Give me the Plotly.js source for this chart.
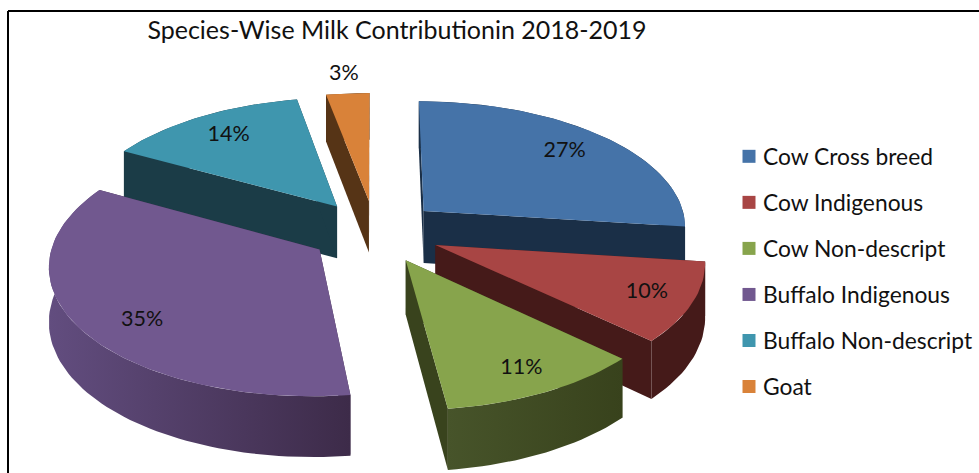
<!DOCTYPE html>
<html>
<head>
<meta charset="utf-8">
<script src="https://cdn.plot.ly/plotly-3.0.1.min.js"></script>
<style>html,body{margin:0;padding:0;background:#fff}#chart{width:979px;height:473px}text{font-variant-ligatures:none}</style>
</head>
<body>
<div id="chart"></div>
<script>
// Share of milk production by species, percent
const categories = ['Cow Cross breed', 'Cow Indigenous', 'Cow Non-descript', 'Buffalo Indigenous', 'Buffalo Non-descript', 'Goat'];
const values = [27, 10, 11, 35, 14, 3];

// Slice colours: top face, cut faces, rim gradient (left, right)
const topColors = ['#4573a8', '#a84544', '#87a44c', '#71588f', '#3f96ae', '#d98239'];
const cutColors = ['#1a2f47', '#451a19', '#39431d', '#3e2b49', '#1b3c47', '#563416'];
const rimLeft = ['#1a2f47', '#451a19', '#47542a', '#624d7f', '#1b3c47', '#563416'];
const rimRight = ['#1a2f47', '#451a19', '#38421c', '#3d2b49', '#1b3c47', '#563416'];

// Back-to-front order for the painter's algorithm
const paintOrder = [5, 4, 0, 3, 1, 2];
// Percentage label placement: radial distance (fraction of radius) and turn from the bisector (degrees)
const labelRadius = [0.78, 0.83, 0.84, 0.8, 0.78, 1.2];
const labelTurn = [0, 0, 0, -6, 0, 0];

// Perspective view of the exploded disc
const view = {cx: 375, cy: 231.5, radius: 264, tilt: 0.478, eye: 9, depth: 53, explode: 0.25};

function project(gx, gy, drop) {
  const s = view.eye / (view.eye - gy);
  return [view.cx + gx * view.radius * s,
          view.cy + gy * view.radius * view.tilt * s + (drop ? view.depth * s : 0)];
}

const total = values.reduce((a, b) => a + b, 0);
let running = 0;
const slices = values.map(v => {
  const a0 = running / total * 2 * Math.PI;
  running += v;
  const a1 = running / total * 2 * Math.PI;
  const mid = (a0 + a1) / 2;
  const ox = Math.sin(mid) * view.explode, oy = -Math.cos(mid) * view.explode;
  const arc = [];
  const steps = Math.max(4, Math.ceil((a1 - a0) / 0.03));
  for (let i = 0; i <= steps; i++) {
    const a = a0 + (a1 - a0) * i / steps;
    arc.push([ox + Math.sin(a), oy - Math.cos(a)]);
  }
  return {ox, oy, mid, arc};
});

function polygon(pts, fillProps, name) {
  const trace = {
    type: 'scatter', mode: 'lines', x: pts.map(p => p[0]), y: pts.map(p => p[1]),
    fill: 'toself', line: {width: 0}, hoverinfo: 'skip', showlegend: false, name
  };
  return Object.assign(trace, fillProps);
}

const traces = [];
paintOrder.forEach(i => {
  const s = slices[i], name = categories[i];
  const apexTop = project(s.ox, s.oy, false), apexBottom = project(s.ox, s.oy, true);
  const arcTop = s.arc.map(p => project(p[0], p[1], false));
  const arcBottom = s.arc.map(p => project(p[0], p[1], true));
  const last = arcTop.length - 1;
  // Flat cut faces
  traces.push(polygon([apexTop, arcTop[0], arcBottom[0], apexBottom, apexTop], {fillcolor: cutColors[i]}, name));
  traces.push(polygon([apexTop, arcTop[last], arcBottom[last], apexBottom, apexTop], {fillcolor: cutColors[i]}, name));
  // Curved rim, shaded across its width
  traces.push(polygon(arcTop.concat(arcBottom.slice().reverse()).concat([arcTop[0]]), {
    fillcolor: rimRight[i],
    fillgradient: {type: 'horizontal', colorscale: [[0, rimLeft[i]], [1, rimRight[i]]]}
  }, name));
  // Top face
  traces.push(polygon([apexTop].concat(arcTop, [apexTop]), {fillcolor: topColors[i]}, name));
});

// Percentage labels
const labelPoints = slices.map((s, i) => {
  const r = labelRadius[i], a = s.mid + labelTurn[i] * Math.PI / 180;
  return project(s.ox + Math.sin(a) * r, s.oy - Math.cos(a) * r, false);
});
traces.push({
  type: 'scatter', mode: 'text', x: labelPoints.map(p => p[0]), y: labelPoints.map(p => p[1]),
  text: values.map(v => v + '%'), textposition: 'middle center',
  textfont: {family: 'Lato, sans-serif', size: 21.5, color: '#111'},
  hoverinfo: 'skip', showlegend: false
});

// Legend entries
categories.forEach((name, i) => {
  traces.push({
    type: 'scatter', mode: 'markers', x: [null], y: [null], name, legendgroup: name,
    marker: {symbol: 'square', size: 13, color: topColors[i]}, hoverinfo: 'skip'
  });
});

const layout = {
  width: 979, height: 473,
  margin: {l: 0, r: 0, t: 0, b: 0},
  paper_bgcolor: '#fff', plot_bgcolor: '#fff',
  font: {family: 'Lato, sans-serif', color: '#111'},
  title: {
    text: 'Species-Wise Milk Contributionin 2018-2019',
    font: {family: 'Lato, sans-serif', size: 25, color: '#111'},
    x: 397 / 979, xref: 'paper', xanchor: 'center',
    y: 1 - 30 / 473, yref: 'container', yanchor: 'middle'
  },
  xaxis: {range: [0, 979], visible: false, fixedrange: true},
  yaxis: {range: [473, 0], visible: false, fixedrange: true},
  showlegend: true,
  legend: {
    x: 723 / 979, xanchor: 'left', y: 1 - 135 / 473, yanchor: 'top',
    traceorder: 'grouped', tracegroupgap: 13.4, bgcolor: 'rgba(0,0,0,0)',
    font: {family: 'Lato, sans-serif', size: 22.8, color: '#111'}
  },
  shapes: [
    {type: 'line', xref: 'paper', yref: 'paper', x0: 8 / 979, x1: 8 / 979, y0: 0, y1: 1 - 11 / 473, line: {color: '#000', width: 2}},
    {type: 'line', xref: 'paper', yref: 'paper', x0: 8 / 979, x1: 1, y0: 1 - 11 / 473, y1: 1 - 11 / 473, line: {color: '#000', width: 2}}
  ]
};

Plotly.newPlot('chart', traces, layout, {displayModeBar: false, staticPlot: true}).then(gd => {
  // Bring the legend swatches closer to their labels
  gd.querySelectorAll('.legend .legendsymbols').forEach(g => g.setAttribute('transform', 'translate(6,0)'));
});
</script>
</body>
</html>
